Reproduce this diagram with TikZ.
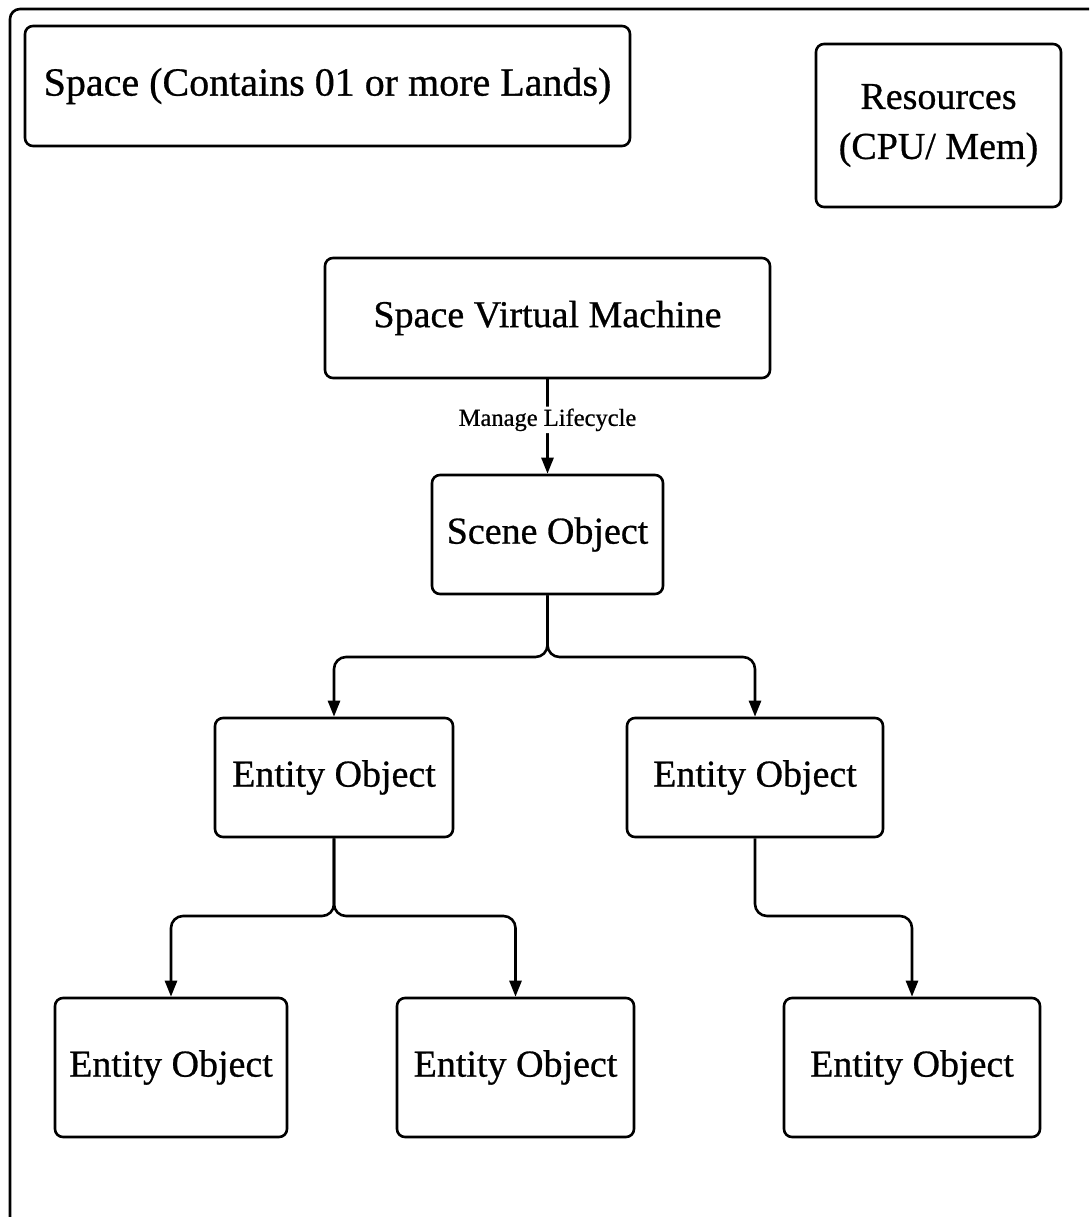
\documentclass[tikz,border=0pt]{standalone}
\usepackage{fontspec}
\setmainfont{Liberation Serif}[BoldFont=Liberation Serif,BoldFeatures={FakeBold=0.7}]
\usetikzlibrary{arrows.meta}
\begin{document}
\begin{tikzpicture}[x=1pt,y=-1pt,
  box/.style={draw,line width=2.6pt,rounded corners=8pt,inner sep=0pt,
    align=center,font=\fontsize{38}{50}\selectfont\bfseries},
  link/.style={line width=2.6pt,rounded corners=12pt,
    -{Triangle[length=16pt,width=12pt]}},
  lbl/.style={fill=white,inner sep=2pt,font=\fontsize{24.5}{29}\selectfont\bfseries}]
\clip (0,0) rectangle (1089,1217);
\useasboundingbox (0,0) rectangle (1089,1217);
% outer frame of the space (runs past the page edges)
\draw[line width=2.6pt,rounded corners=10pt] (10,9) rectangle (1150,1260);

\node[box,minimum width=605pt,minimum height=120pt,font=\fontsize{40}{50}\selectfont\bfseries] (space) at (327.5,86) {Space (Contains 01 or more Lands)};
\node[box,minimum width=245pt,minimum height=163pt] (res) at (938.5,125.5) {Resources\\(CPU/ Mem)};
\node[box,minimum width=445pt,minimum height=120pt] (svm) at (547.5,318) {Space Virtual Machine};
\node[box,minimum width=231pt,minimum height=119pt] (scene) at (547.5,534.5) {Scene Object};
\node[box,minimum width=238pt,minimum height=119pt] (e1) at (334,777.5) {Entity Object};
\node[box,minimum width=256pt,minimum height=119pt] (e2) at (755,777.5) {Entity Object};
\node[box,minimum width=232pt,minimum height=139pt] (e11) at (171,1067.5) {Entity Object};
\node[box,minimum width=237pt,minimum height=139pt] (e12) at (515.5,1067.5) {Entity Object};
\node[box,minimum width=256pt,minimum height=139pt] (e21) at (912,1067.5) {Entity Object};

\draw[link] (svm.south) -- node[lbl,pos=0.43] {Manage Lifecycle} (scene.north);

% branching connectors
\draw[link] (scene.south) |- (445,657) -| (e1.north);
\draw[link] (scene.south) |- (650,657) -| (e2.north);
\draw[link] (e1.south) |- (250,916) -| (e11.north);
\draw[link] (e1.south) |- (420,916) -| (e12.north);
\draw[link] (e2.south) |- (830,916) -| (e21.north);
\end{tikzpicture}
\end{document}
